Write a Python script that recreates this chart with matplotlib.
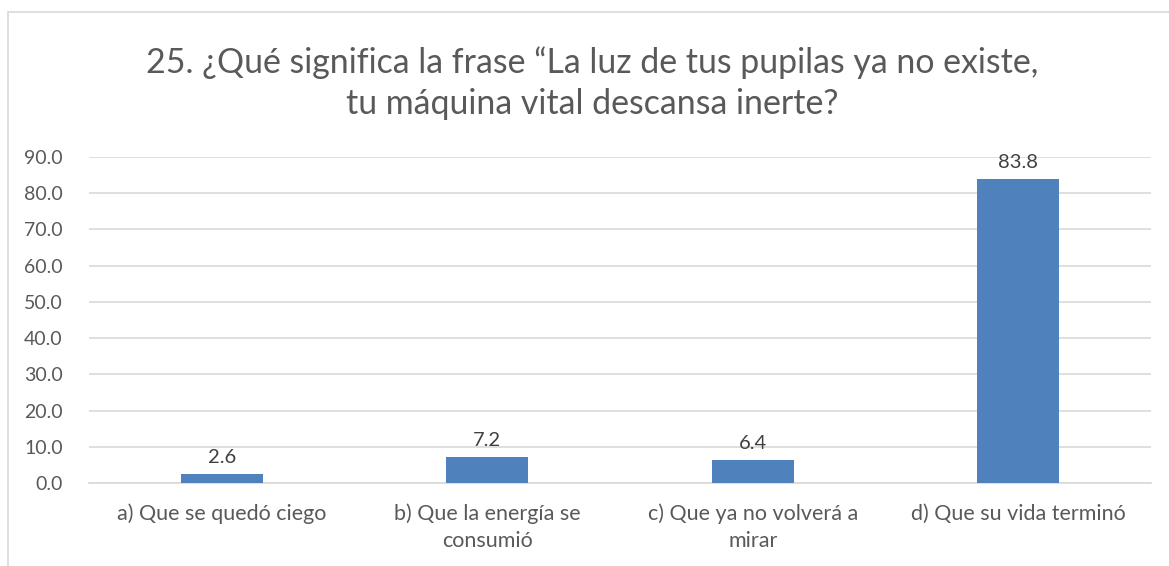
import matplotlib.pyplot as plt
from matplotlib.patches import Rectangle

categories = ["a) Que se quedó ciego", "b) Que la energía se\nconsumió",
              "c) Que ya no volverá a\nmirar", "d) Que su vida terminó"]
values = [2.6, 7.2, 6.4, 83.8]
yticks = [0, 10, 20, 30, 40, 50, 60, 70, 80, 90]
title = "25. ¿Qué significa la frase “La luz de tus pupilas ya no existe,\ntu máquina vital descansa inerte?"

plt.rcParams['font.family'] = ['Lato', 'DejaVu Sans']
txt = "#595959"

fig = plt.figure(figsize=(11.69, 5.66), dpi=100)
fig.patches.append(Rectangle((7.5/1169, -0.1), 1.2, (566-12)/566 + 0.1, transform=fig.transFigure,
                             fill=False, edgecolor="#D9D9D9", linewidth=1.2))
ax = fig.add_axes([89/1169, 83/566, (1151-89)/1169, (483-157)/566])

x = range(len(categories))
bars = ax.bar(x, values, width=0.31, color="#4F81BD", zorder=3)
for b, v in zip(bars, values):
    ax.text(b.get_x() + b.get_width()/2, v + 2.2, "%.1f" % v, ha="center", va="bottom",
            fontsize=14.5, color="#404040")

ax.set_xlim(-0.5, 3.5)
ax.set_ylim(0, 90)
ax.set_yticks(yticks)
ax.set_yticklabels(["%.1f" % t for t in yticks], fontsize=14, color=txt)
ax.set_xticks(list(x))
ax.set_xticklabels(categories, fontsize=15.5, color=txt, linespacing=1.4)
ax.tick_params(length=0)
ax.tick_params(axis="y", pad=19)
ax.tick_params(axis="x", pad=15)
ax.grid(axis="y", color="#D9D9D9", linewidth=1.2, zorder=0)
for s in ["top", "right", "left"]:
    ax.spines[s].set_visible(False)
ax.spines["bottom"].set_color("#D9D9D9")
ax.spines["bottom"].set_linewidth(1.2)

fig.text(0.5 + 8/1169, 1 - 83/566, title, ha="center", va="center", fontsize=24.4,
         color=txt, linespacing=1.33)

fig.savefig("out.png", dpi=100)
